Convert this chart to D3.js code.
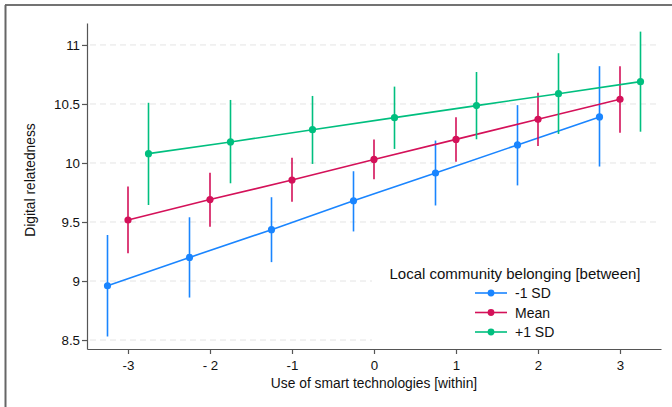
<!DOCTYPE html>
<html>
<head>
<meta charset="utf-8">
<script src="https://cdn.jsdelivr.net/npm/d3@7"></script>
<style>
  body { margin: 0; background: #fff; }
  svg { display: block; font-family: "Liberation Sans", Arial, sans-serif; }
</style>
</head>
<body>
<svg id="chart" width="672" height="407"></svg>
<script>
// Values
const seriesNames = ['-1 SD', 'Mean', '+1 SD'];
const seriesColors = ['#1a85ff', '#d41159', '#00bf7f'];

const blueX = [-3.25, -2.25, -1.25, -0.25, 0.75, 1.75, 2.75];
const blueY = [8.96, 9.20, 9.435, 9.68, 9.915, 10.153, 10.39];
const blueLo = [8.53, 8.86, 9.16, 9.42, 9.64, 9.81, 9.97];
const blueHi = [9.39, 9.54, 9.71, 9.93, 10.19, 10.49, 10.82];

const redX = [-3, -2, -1, 0, 1, 2, 3];
const redY = [9.517, 9.69, 9.856, 10.03, 10.20, 10.37, 10.54];
const redLo = [9.235, 9.46, 9.672, 9.862, 10.01, 10.144, 10.257];
const redHi = [9.80, 9.918, 10.045, 10.20, 10.387, 10.596, 10.82];

const greenX = [-2.75, -1.75, -0.75, 0.25, 1.25, 2.25, 3.25];
const greenY = [10.079, 10.178, 10.282, 10.384, 10.486, 10.587, 10.689];
const greenLo = [9.644, 9.828, 9.992, 10.119, 10.201, 10.246, 10.265];
const greenHi = [10.51, 10.534, 10.568, 10.647, 10.771, 10.93, 11.113];

const xTicks = [-3, -2, -1, 0, 1, 2, 3];
const xTickLabels = ['-3', '- 2', '-1', '0', '1', '2', '3'];
const yTicks = [8.5, 9, 9.5, 10, 10.5, 11];
const yTickLabels = ['8.5', '9', '9.5', '10', '10.5', '11'];

const zip = (xs, ys, lo, hi) => xs.map((x, i) => ({ x, y: ys[i], lo: lo[i], hi: hi[i] }));
const series = [
    zip(blueX, blueY, blueLo, blueHi),
    zip(redX, redY, redLo, redHi),
    zip(greenX, greenY, greenLo, greenHi),
];

const svg = d3.select('#chart');

// Frame (only top and left edges show in the picture)
svg.append('line').attr('x1', 5).attr('x2', 672).attr('y1', 5).attr('y2', 5)
    .attr('stroke', '#444').attr('stroke-width', 1.5);
svg.append('line').attr('x1', 5.5).attr('x2', 5.5).attr('y1', 5).attr('y2', 407)
    .attr('stroke', '#666').attr('stroke-width', 2);

const x = d3.scaleLinear().domain([-3.5, 3.5]).range([87, 661]);
const y = d3.scaleLinear().domain([8.424, 11.186]).range([349, 23]);

// Gridlines
svg.append('g')
    .selectAll('line')
    .data(yTicks)
    .join('line')
    .attr('x1', 90).attr('x2', 658)
    .attr('y1', d => y(d)).attr('y2', d => y(d))
    .attr('stroke', '#e4e4e4')
    .attr('stroke-width', 1)
    .attr('stroke-dasharray', '6,4');

// Axes
const xAxis = svg.append('g')
    .attr('transform', `translate(0,${y.range()[0]})`)
    .call(d3.axisBottom(x).tickValues(xTicks).tickFormat((d, i) => xTickLabels[i]).tickSize(5).tickSizeOuter(0));
const yAxis = svg.append('g')
    .attr('transform', `translate(${x.range()[0]},0)`)
    .call(d3.axisLeft(y).tickValues(yTicks).tickFormat((d, i) => yTickLabels[i]).tickSize(5).tickSizeOuter(0));

[xAxis, yAxis].forEach(ax => {
    ax.select('.domain').attr('stroke', '#555').attr('stroke-width', 1.2);
    ax.selectAll('.tick line').attr('stroke', '#555').attr('stroke-width', 1.2);
    ax.selectAll('.tick text').attr('fill', '#111').attr('font-size', 13.3)
        .attr('font-family', '"Liberation Sans", Arial, sans-serif');
});
xAxis.selectAll('.tick text').attr('dy', '1.0em');
yAxis.selectAll('.tick text').attr('x', -7);

// Axis titles
svg.append('text')
    .attr('x', 374).attr('y', 388)
    .attr('text-anchor', 'middle')
    .attr('font-size', 13.8).attr('fill', '#111')
    .text('Use of smart technologies [within]');
svg.append('text')
    .attr('transform', 'translate(35,180) rotate(-90)')
    .attr('text-anchor', 'middle')
    .attr('font-size', 13.8).attr('fill', '#111')
    .text('Digital relatedness');

// Legend background (sits under the marks but covers gridlines)
svg.append('rect')
    .attr('x', 372).attr('y', 257).attr('width', 284).attr('height', 84)
    .attr('fill', '#fff');

// Series: lines, CIs, points
const line = d3.line().x(d => x(d.x)).y(d => y(d.y));
series.forEach((data, si) => {
    const g = svg.append('g');
    const color = seriesColors[si];
    g.append('path')
        .datum(data)
        .attr('d', line)
        .attr('fill', 'none')
        .attr('stroke', color)
        .attr('stroke-width', 1.6);
    g.selectAll('line.ci')
        .data(data)
        .join('line')
        .attr('class', 'ci')
        .attr('x1', d => x(d.x)).attr('x2', d => x(d.x))
        .attr('y1', d => y(d.lo)).attr('y2', d => y(d.hi))
        .attr('stroke', color)
        .attr('stroke-width', 1.6);
    g.selectAll('circle')
        .data(data)
        .join('circle')
        .attr('cx', d => x(d.x)).attr('cy', d => y(d.y))
        .attr('r', 3.6)
        .attr('fill', color);
});

// Legend
const legend = svg.append('g');
legend.append('text')
    .attr('x', 515).attr('y', 279)
    .attr('text-anchor', 'middle')
    .attr('font-size', 15).attr('fill', '#111')
    .text('Local community belonging [between]');

const rowY = d3.scalePoint().domain(seriesNames).range([293, 332]);
const items = legend.selectAll('g.item')
    .data(seriesNames)
    .join('g')
    .attr('class', 'item')
    .attr('transform', d => `translate(0,${rowY(d)})`);
items.append('line')
    .attr('x1', 475).attr('x2', 507)
    .attr('stroke', (d, i) => seriesColors[i])
    .attr('stroke-width', 1.6);
items.append('circle')
    .attr('cx', 491).attr('r', 3.4)
    .attr('fill', (d, i) => seriesColors[i]);
items.append('text')
    .attr('x', 515).attr('dy', '0.36em')
    .attr('font-size', 14).attr('fill', '#111')
    .text(d => d);
</script>
</body>
</html>
